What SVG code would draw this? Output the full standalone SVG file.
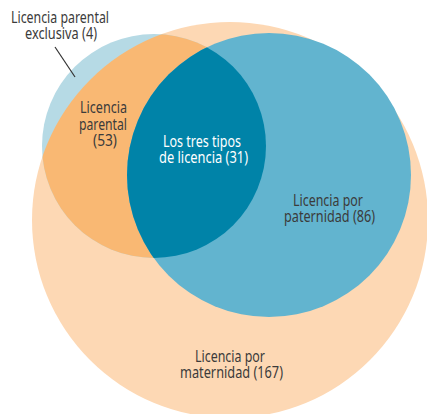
<svg xmlns="http://www.w3.org/2000/svg" width="427" height="414" viewBox="0 0 427 414">
  <style>
    .lbl { font-family: "Noto Sans", "Liberation Sans", sans-serif; font-size: 15.5px; fill: #3b3b3b; text-anchor: middle; }
    .inv { fill: #ffffff; }
    .lead { stroke: #333333; stroke-width: 1.2; fill: none; }
  </style>
  <defs>
    <clipPath id="clipPeach"><circle cx="230" cy="220" r="198"/></clipPath>
    <clipPath id="clipParental"><circle cx="154" cy="146" r="112"/></clipPath>
  </defs>
  <rect width="427" height="414" fill="#ffffff"/>

  <g id="maternidad">
    <circle cx="230" cy="220" r="198" fill="#FDD8B4"/>
    <text class="lbl" x="230" y="362" textLength="70" lengthAdjust="spacingAndGlyphs">Licencia por</text>
    <text class="lbl" x="231.5" y="378" textLength="103" lengthAdjust="spacingAndGlyphs">maternidad (167)</text>
  </g>

  <g id="parental">
    <circle cx="154" cy="146" r="112" fill="#B6DAE5"/>
    <circle cx="230" cy="220" r="198" fill="#F9B873" clip-path="url(#clipParental)"/>
    <text class="lbl" x="103.5" y="112.5" textLength="47" lengthAdjust="spacingAndGlyphs">Licencia</text>
    <text class="lbl" x="103" y="129.5" textLength="48" lengthAdjust="spacingAndGlyphs">parental</text>
    <text class="lbl" x="105" y="146" textLength="24" lengthAdjust="spacingAndGlyphs">(53)</text>
  </g>

  <g id="paternidad">
    <circle cx="269" cy="175" r="142" fill="#62B4CF"/>
    <text class="lbl" x="328" y="206" textLength="70" lengthAdjust="spacingAndGlyphs">Licencia por</text>
    <text class="lbl" x="329.5" y="222" textLength="91" lengthAdjust="spacingAndGlyphs">paternidad (86)</text>
  </g>

  <g id="tres-tipos">
    <circle cx="269" cy="175" r="142" fill="#0083A8" clip-path="url(#clipParental)"/>
    <text class="lbl inv" x="202" y="146.5" textLength="78" lengthAdjust="spacingAndGlyphs">Los tres tipos</text>
    <text class="lbl inv" x="203.5" y="163" textLength="89" lengthAdjust="spacingAndGlyphs">de licencia (31)</text>
  </g>

  <g id="parental-exclusiva">
    <text class="lbl" x="60" y="23" textLength="98" lengthAdjust="spacingAndGlyphs">Licencia parental</text>
    <text class="lbl" x="61" y="38.5" textLength="72" lengthAdjust="spacingAndGlyphs">exclusiva (4)</text>
  </g>

  <g id="connectors">
    <line class="lead" x1="55" y1="47" x2="75" y2="77"/>
  </g>
</svg>
